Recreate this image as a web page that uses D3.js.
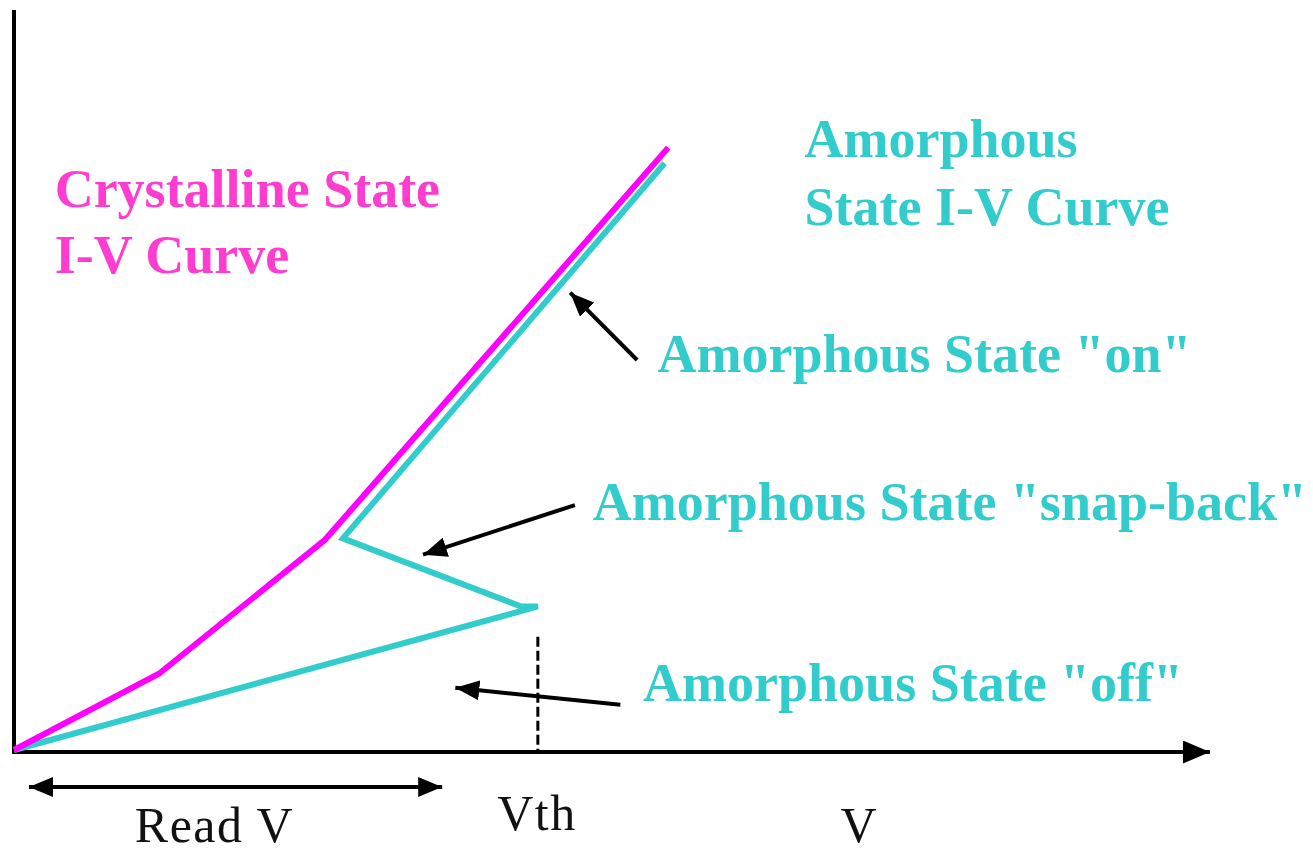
<!DOCTYPE html>
<html>
<head>
<meta charset="utf-8">
<script src="https://cdn.jsdelivr.net/npm/d3@7"></script>
<style>
  html, body { margin: 0; padding: 0; background: #fff; }
  svg { display: block; }
</style>
</head>
<body>
<div id="chart"></div>
<script>
// I-V curves (arbitrary units, V on x, I on y)
const crystallineV = [0, 12.2, 26.0, 54.7];
const crystallineI = [0, 10.4, 28.4, 81.4];
const amorphousV = [0, 43.8, 42.4, 27.5, 54.4];
const amorphousI = [0, 19.4, 19.4, 28.6, 79.3];

const vth = 43.8;
const vthTop = 15.3;
const readV = [1.25, 35.8];
const readArrowI = -5.0;

// annotation arrows: [tailV, tailI, tipV, tipI]
const arrowOn = [52.1, 52.7, 46.5, 61.8];
const arrowSnap = [46.9, 33.1, 34.2, 26.4];
const arrowOff = [50.7, 6.1, 36.9, 8.4];

// labels: [text, v, i]
const crystLabels = [["Crystalline State", 3.4, 73.4], ["I-V Curve", 3.4, 64.4]];
const amorphLabels = [
  ["Amorphous", 66.1, 80.1],
  ["State I-V Curve", 66.1, 70.9],
  ["Amorphous State \"on\"", 53.8, 51.1],
  ["Amorphous State \"snap-back\"", 48.4, 31.1],
  ["Amorphous State \"off\"", 52.6, 6.6]
];
const axisLabels = [["Read V", 10.1, -12.4], ["Vth", 40.4, -10.8], ["V", 69.1, -12.4]];

const W = 1313, H = 854;
const magenta = "#ff00ff", cyan = "#33cccc";
const magentaText = "#ff3cd0";

const svg = d3.select("#chart").append("svg")
  .attr("width", W).attr("height", H)
  .style("background", "#fff");

const x = d3.scaleLinear().domain([0, 100]).range([14, 1210]);
const y = d3.scaleLinear().domain([0, 100]).range([750, 10]);

// arrow marker helper
const defs = svg.append("defs");
function marker(id, len, half) {
  defs.append("marker")
    .attr("id", id)
    .attr("markerUnits", "userSpaceOnUse")
    .attr("viewBox", `0 ${-half} ${len} ${half * 2}`)
    .attr("refX", len).attr("refY", 0)
    .attr("markerWidth", len).attr("markerHeight", half * 2)
    .attr("orient", "auto-start-reverse")
    .append("path")
    .attr("d", `M0,${-half}L${len},0L0,${half}Z`)
    .attr("fill", "#000");
}
marker("axisHead", 27, 11.5);
marker("smallHead", 24, 10);

// axes
svg.append("line")
  .attr("x1", x(0)).attr("y1", y(0) + 2)
  .attr("x2", x(0)).attr("y2", y(100))
  .attr("stroke", "#000").attr("stroke-width", 4);

svg.append("line")
  .attr("x1", x(0) - 2).attr("y1", y(0) + 2)
  .attr("x2", x(100)).attr("y2", y(0) + 2)
  .attr("stroke", "#000").attr("stroke-width", 4)
  .attr("marker-end", "url(#axisHead)");

// Vth dashed line
svg.append("line")
  .attr("x1", x(vth)).attr("y1", y(vthTop))
  .attr("x2", x(vth)).attr("y2", y(0))
  .attr("stroke", "#000").attr("stroke-width", 3)
  .attr("stroke-dasharray", "10,4");

// Read V double arrow
svg.append("line")
  .attr("x1", x(readV[0])).attr("y1", y(readArrowI))
  .attr("x2", x(readV[1])).attr("y2", y(readArrowI))
  .attr("stroke", "#000").attr("stroke-width", 4)
  .attr("marker-start", "url(#smallHead)")
  .attr("marker-end", "url(#smallHead)");

// curves
const line = d3.line().x(d => x(d[0])).y(d => y(d[1]));

svg.append("path")
  .datum(amorphousV.map((v, i) => [v, amorphousI[i]]))
  .attr("d", line)
  .attr("fill", "none")
  .attr("stroke", cyan).attr("stroke-width", 6)
  .attr("stroke-linejoin", "miter");

svg.append("path")
  .datum(crystallineV.map((v, i) => [v, crystallineI[i]]))
  .attr("d", line)
  .attr("fill", "none")
  .attr("stroke", magenta).attr("stroke-width", 6)
  .attr("stroke-linejoin", "round");

// annotation arrows
[arrowOn, arrowSnap, arrowOff].forEach(a => {
  svg.append("line")
    .attr("x1", x(a[0])).attr("y1", y(a[1]))
    .attr("x2", x(a[2])).attr("y2", y(a[3]))
    .attr("stroke", "#000").attr("stroke-width", 4)
    .attr("marker-end", "url(#smallHead)");
});

// labels
const boldFont = "'Liberation Serif', 'Times New Roman', serif";

svg.selectAll(".cryst")
  .data(crystLabels).enter().append("text")
  .attr("x", d => x(d[1])).attr("y", d => y(d[2]))
  .text(d => d[0])
  .style("font-family", boldFont).style("font-weight", "bold")
  .style("font-size", "54px").style("fill", magentaText);

svg.selectAll(".amorph")
  .data(amorphLabels).enter().append("text")
  .attr("x", d => x(d[1])).attr("y", d => y(d[2]))
  .text(d => d[0])
  .style("font-family", boldFont).style("font-weight", "bold")
  .style("font-size", "54px").style("fill", cyan);

svg.selectAll(".axlab")
  .data(axisLabels).enter().append("text")
  .attr("x", d => x(d[1])).attr("y", d => y(d[2]))
  .text(d => d[0])
  .style("font-family", boldFont)
  .style("letter-spacing", "1.5px")
  .style("font-size", "50px").style("fill", "#111");
</script>
</body>
</html>
